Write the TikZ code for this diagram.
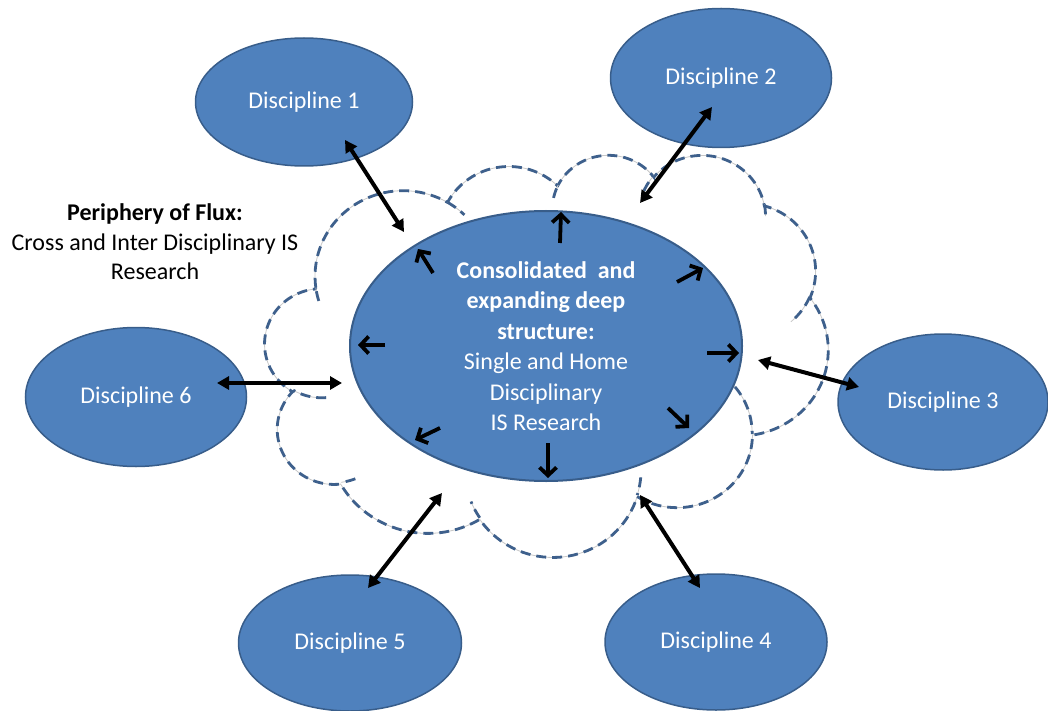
\documentclass[tikz,border=0pt]{standalone}
\usepackage{fontspec}
\setmainfont{Carlito}
\usetikzlibrary{arrows.meta,shapes.geometric}
\definecolor{accblue}{RGB}{79,129,189}
\definecolor{accdark}{RGB}{56,93,138}
\definecolor{dashblue}{RGB}{62,96,140}
\definecolor{thingray}{RGB}{200,200,200}

% --- cloud geometry (Office "cloud" preset, path units / 100) ---
\gdef\clX{39}\gdef\clY{143.7}
\newcommand\cldmove[3]{\gdef\clX{#2}\gdef\clY{#3}%
  \expandafter\xdef\csname clq#1\endcsname{(#2,#3)}}
\newcommand\cldarc[5]{% name wR hR stAng swAng
  \pgfmathsetmacro\cltS{atan2((#2)*sin(#4),(#3)*cos(#4))}%
  \pgfmathsetmacro\cltE{atan2((#2)*sin((#4)+(#5)),(#3)*cos((#4)+(#5)))}%
  \pgfmathsetmacro\cltD{mod(\cltE-\cltS+720,360)}%
  \pgfmathsetmacro\cltF{\cltS+\cltD}%
  \pgfmathsetmacro\clCX{\clX-(#2)*cos(\cltS)}%
  \pgfmathsetmacro\clCY{\clY-(#3)*sin(\cltS)}%
  \expandafter\xdef\csname clp#1\endcsname{-- plot[domain=\cltS:\cltF,samples=40] ({\clCX+#2*cos(\noexpand\x)},{\clCY+#3*sin(\noexpand\x)})}%
  \pgfmathsetmacro\clX{\clCX+(#2)*cos(\cltF)}%
  \pgfmathsetmacro\clY{\clCY+(#3)*sin(\cltF)}%
  \global\let\clX\clX \global\let\clY\clY}

\begin{document}
\cldarc{a}{67.53}{91.90}{-190.48748}{123.78053}%
\cldarc{b}{53.33}{72.67}{-144.10238}{89.94523}%
\cldarc{c}{43.65}{59.45}{-145.80792}{99.72302}%
\cldarc{d}{48.57}{65.95}{-130.98607}{117.24173}%
\cldarc{e}{53.33}{72.73}{-78.70888}{109.02692}%
\cldarc{f}{67.75}{92.20}{-46.26725}{130.269}%
\cldarc{g}{57.85}{78.67}{0.62502}{114.03333}%
\cldarc{h}{67.52}{92.15}{22.4516}{115.17255}%
\cldarc{i}{77.20}{105.43}{66.24263}{75.71102}%
\cldarc{j}{43.60}{59.18}{-274.94208}{146.73557}%
\cldarc{k}{43.45}{59.45}{-246.8285}{152.51885}%
\cldmove{la}{46.93}{261.77}\cldarc{la}{43.45}{59.45}{86.742}{26.4295}%
\cldmove{lb}{69.28}{348.99}\cldarc{lb}{43.60}{59.18}{73.61047}{11.44747}%
\cldmove{lc}{164.78}{390.90}\cldarc{lc}{67.52}{92.15}{137.62415}{14.0811}%
\cldmove{ld}{288.27}{347.51}\cldarc{ld}{67.52}{92.15}{6.45327}{15.99835}%
\cldmove{le}{341.29}{229.54}\cldarc{le}{57.85}{78.67}{-70.29235}{70.91737}%
\cldmove{lf}{417.98}{153.54}\cldarc{lf}{53.33}{72.73}{30.31803}{27.7515}%
\cldmove{lg}{383.24}{54.26}\cldarc{lg}{48.57}{65.95}{-13.74433}{14.8589}%
\cldmove{lh}{290.78}{39.52}\cldarc{lh}{48.57}{65.95}{-149.18145}{18.19537}%
\cldmove{li}{221.41}{47.20}\cldarc{li}{43.65}{59.45}{-163.49427}{17.68635}%
\cldmove{lj}{140.00}{51.92}\cldarc{lj}{67.53}{91.90}{-66.70695}{12.31935}%
\cldmove{lk}{41.27}{157.89}\cldarc{lk}{67.53}{91.90}{157.65435}{11.85817}%
\begin{tikzpicture}[x=1pt,y=-1pt,
  disc/.style={ellipse, fill=accblue, draw=accdark, line width=1.5pt, text=white,
    font=\fontsize{24}{29}\selectfont, inner sep=0pt},
  core/.style={ellipse, fill=accblue, draw=accdark, line width=2pt, text=white,
    align=center, font=\fontsize{24}{30.5}\selectfont, inner sep=0pt},
  cloudbase/.style={fill=white, draw=thingray, line width=0.8pt},
  cloudthin/.style={draw=thingray, line width=0.8pt},
  clouddash/.style={draw=dashblue, line width=2.8pt, dash pattern=on 10pt off 6pt},
  dbl/.style={line width=4pt, {Triangle[length=12pt,width=13pt]}-{Triangle[length=12pt,width=13pt]}},
  outarr/.style={line width=3.8pt, -{Straight Barb[length=8pt,width=17pt,line width=3.8pt]}},
  lbl/.style={align=center, font=\fontsize{24}{29.5}\selectfont, inner sep=0pt}]
\useasboundingbox (0,0) rectangle (1048,711);

% cloud (periphery of flux)
\begin{scope}[shift={(265,154)}, xscale=1.30324, yscale=0.93056]
  \path[cloudbase] (39,143.7) \clpa \clpb \clpc \clpd \clpe \clpf \clpg \clph \clpi \clpj \clpk -- cycle;
  \path[clouddash] (39,143.7) \clpa \clpb \clpc \clpd \clpe \clpf \clpg \clph \clpi \clpj \clpk -- cycle;
  \path[cloudthin] \clqla \clpla \clqlb \clplb \clqlc \clplc \clqld \clpld \clqle \clple \clqlf \clplf
    \clqlg \clplg \clqlh \clplh \clqli \clpli \clqlj \clplj \clqlk \clplk;
  \path[clouddash] \clqla \clpla \clqlb \clplb \clqlc \clplc \clqld \clpld \clqle \clple \clqlf \clplf
    \clqlg \clplg \clqlh \clplh \clqli \clpli \clqlj \clplj \clqlk \clplk;
\end{scope}

% core
\node[core, minimum width=392pt, minimum height=270pt] (core) at (546,346)
  {\textbf{Consolidated~ and}\\ \textbf{expanding deep}\\ \textbf{structure:}\\ Single and Home\\ Disciplinary\\ IS Research};

% disciplines
\node[disc, minimum width=217pt, minimum height=128pt] (d1) at (304,102) {Discipline 1};
\node[disc, minimum width=221pt, minimum height=139pt] (d2) at (721,78) {Discipline 2};
\node[disc, minimum width=210pt, minimum height=136pt] (d3) at (943,402) {Discipline 3};
\node[disc, minimum width=222pt, minimum height=136pt] (d4) at (716,642) {Discipline 4};
\node[disc, minimum width=223pt, minimum height=136pt] (d5) at (350,643) {Discipline 5};
\node[disc, minimum width=221pt, minimum height=139pt] (d6) at (136,397) {Discipline 6};

% label
\node[lbl] (flux) at (155,242) {\textbf{Periphery of Flux:}\\ Cross and Inter Disciplinary IS\\ Research};

% double arrows between disciplines and the periphery
\coordinate (a1) at (345,140); \coordinate (b1) at (404,232);
\coordinate (a2) at (712,107); \coordinate (b2) at (640,203);
\coordinate (a3) at (859,387); \coordinate (b3) at (758,360);
\coordinate (a4) at (700,588); \coordinate (b4) at (640,495);
\coordinate (a5) at (368,588); \coordinate (b5) at (442,493);
\coordinate (a6) at (217,383); \coordinate (b6) at (342,383);
\foreach \i in {1,...,6} {\draw[dbl] (a\i) -- (b\i);}

% short outward arrows from the core
\coordinate (s1) at (560,243); \coordinate (t1) at (561,212);
\coordinate (s2) at (433,273); \coordinate (t2) at (418,249);
\coordinate (s3) at (385,345); \coordinate (t3) at (358,345);
\coordinate (s4) at (677,282); \coordinate (t4) at (703,268);
\coordinate (s5) at (707,353); \coordinate (t5) at (739,353);
\coordinate (s6) at (668,408); \coordinate (t6) at (689,428);
\coordinate (s7) at (440,428); \coordinate (t7) at (415,440);
\coordinate (s8) at (548,443); \coordinate (t8) at (548,478);
\foreach \i in {1,...,8} {\draw[outarr] (s\i) -- (t\i);}
\end{tikzpicture}
\end{document}
